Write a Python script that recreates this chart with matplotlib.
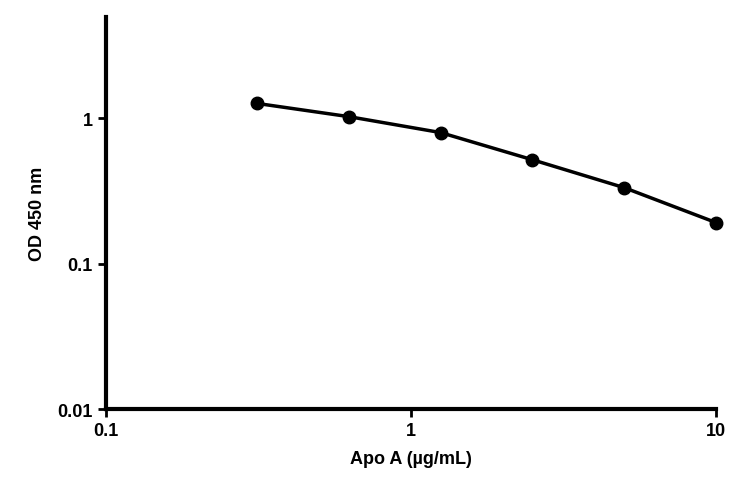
import matplotlib as mpl

mpl.use("Agg")
import matplotlib.pyplot as plt
from matplotlib.ticker import FixedLocator, FixedFormatter, NullLocator

conc = [0.3125, 0.625, 1.25, 2.5, 5.0, 10.0]
od = [1.27, 1.03, 0.80, 0.52, 0.334, 0.192]
x_ticks = [0.1, 1, 10]
x_labels = ["0.1", "1", "10"]
y_ticks = [0.01, 0.1, 1]
y_labels = ["0.01", "0.1", "1"]

plt.rcParams["font.family"] = ["Liberation Sans", "DejaVu Sans"]
plt.rcParams["font.weight"] = "bold"

fig = plt.figure(figsize=(7.5, 4.85), dpi=100)
ax = fig.add_axes([0.1413, 0.1546, 0.8134, 0.8084])
ax.plot(conc, od, color="black", lw=2.5, marker="o", ms=9, zorder=3, clip_on=False)
ax.set_xscale("log")
ax.set_yscale("log")
ax.set_xlim(0.1, 10)
ax.set_ylim(0.01, 5)
ax.xaxis.set_major_locator(FixedLocator(x_ticks))
ax.xaxis.set_major_formatter(FixedFormatter(x_labels))
ax.xaxis.set_minor_locator(NullLocator())
ax.yaxis.set_major_locator(FixedLocator(y_ticks))
ax.yaxis.set_major_formatter(FixedFormatter(y_labels))
ax.yaxis.set_minor_locator(NullLocator())
for s in ["top", "right"]:
    ax.spines[s].set_visible(False)
for s in ["left", "bottom"]:
    ax.spines[s].set_linewidth(3)
ax.tick_params(width=2, length=6, labelsize=13, direction="out")
for lab in ax.get_xticklabels() + ax.get_yticklabels():
    lab.set_fontweight("bold")
ax.set_xlabel("Apo A (µg/mL)", fontsize=13, fontweight="bold", labelpad=8)
ax.set_ylabel("OD 450 nm", fontsize=13, fontweight="bold", labelpad=8)
fig.savefig("out.png", dpi=100)
